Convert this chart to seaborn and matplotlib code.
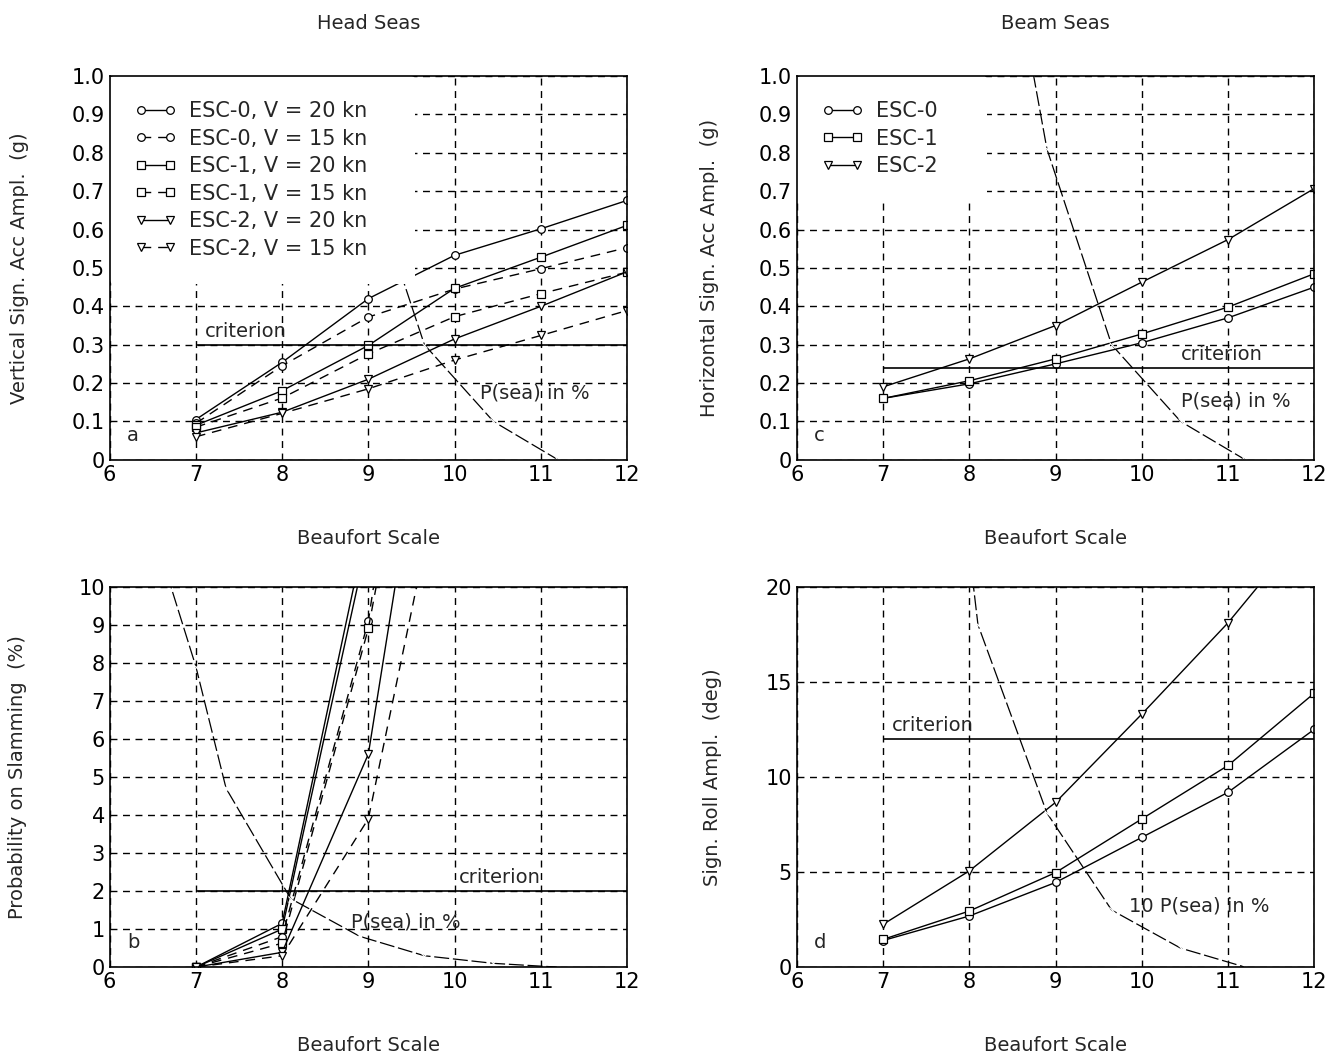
import matplotlib
matplotlib.use("Agg")
import matplotlib.pyplot as plt
import seaborn as sns

# Beaufort positions where each configuration was evaluated
beaufort = [7, 8, 9, 10, 11, 12]

# (a) Head seas, vertical significant acceleration amplitude (g)
vert_esc0_v20 = [0.105, 0.254, 0.420, 0.533, 0.602, 0.676]
vert_esc0_v15 = [0.095, 0.245, 0.372, 0.445, 0.498, 0.553]
vert_esc1_v20 = [0.090, 0.180, 0.298, 0.447, 0.528, 0.611]
vert_esc1_v15 = [0.085, 0.161, 0.276, 0.373, 0.433, 0.489]
vert_esc2_v20 = [0.070, 0.124, 0.210, 0.315, 0.400, 0.490]
vert_esc2_v15 = [0.060, 0.121, 0.185, 0.260, 0.324, 0.389]

# (b) Head seas, probability on slamming (%)
slam_esc0_v20 = [0.0, 1.15, 11.8, 26.0, 40.0, 52.0]
slam_esc0_v15 = [0.0, 0.80, 9.1, 24.0, 37.0, 48.0]
slam_esc1_v20 = [0.0, 1.00, 11.3, 25.0, 38.0, 50.0]
slam_esc1_v15 = [0.0, 0.63, 8.9, 21.0, 33.0, 44.0]
slam_esc2_v20 = [0.0, 0.39, 5.6, 19.8, 30.0, 40.0]
slam_esc2_v15 = [0.0, 0.30, 3.9, 14.8, 24.0, 33.0]

# (c) Beam seas, horizontal significant acceleration amplitude (g)
hor_esc0 = [0.160, 0.198, 0.250, 0.305, 0.370, 0.450]
hor_esc1 = [0.160, 0.206, 0.263, 0.328, 0.398, 0.485]
hor_esc2 = [0.190, 0.263, 0.350, 0.463, 0.574, 0.707]

# (d) Beam seas, significant roll amplitude (deg)
roll_esc0 = [1.40, 2.69, 4.45, 6.82, 9.19, 12.5]
roll_esc1 = [1.46, 2.95, 4.97, 7.79, 10.6, 14.4]
roll_esc2 = [2.25, 5.06, 8.66, 13.3, 18.1, 23.6]

# probability of the sea state (%) vs Beaufort
p_sea_bft = [6.6, 7.0, 7.35, 8.1, 8.9, 9.65, 10.45, 11.2]
p_sea_pct = [10.8, 7.9, 4.7, 1.8, 0.81, 0.30, 0.10, 0.0]

# criteria
crit_x = [7, 12]
crit_vert = 0.3
crit_slam = 2.0
crit_hor = 0.24
crit_roll = 12.0

head_labels = ["ESC-0, V = 20 kn", "ESC-0, V = 15 kn", "ESC-1, V = 20 kn",
               "ESC-1, V = 15 kn", "ESC-2, V = 20 kn", "ESC-2, V = 15 kn"]
beam_labels = ["ESC-0", "ESC-1", "ESC-2"]

sns.set_theme(style="white")
plt.rcParams["font.family"] = ["DejaVu Sans"]
plt.rcParams["axes.edgecolor"] = "black"
plt.rcParams["axes.linewidth"] = 1.2

DASH = (0, (7, 5))
GRID = (0, (5, 4))


def series(ax, y, marker, dashed=False, label=None):
    sns.lineplot(x=beaufort, y=y, ax=ax, color="black", linewidth=1.0,
                 marker=marker, markersize=5.5, markerfacecolor="white",
                 markeredgecolor="black", markeredgewidth=0.9,
                 linestyle=DASH if dashed else "-", label=label,
                 legend=False, estimator=None, sort=False)


def p_sea(ax, scale):
    sns.lineplot(x=p_sea_bft, y=[v * scale for v in p_sea_pct], ax=ax,
                 color="black", linewidth=0.9, marker="x", markersize=5,
                 linestyle=(0, (12, 3)), legend=False, estimator=None, sort=False)


def style_axes(ax, ylim, yticks, ylabel, tag, ylab_x):
    ax.set_xlim(6, 12)
    ax.set_ylim(*ylim)
    ax.set_xticks([6, 7, 8, 9, 10, 11, 12])
    ax.set_yticks(yticks)
    ax.grid(True, color="black", linestyle=GRID, linewidth=1.0)
    ax.set_axisbelow(True)
    ax.tick_params(direction="in", length=4, labelsize=15, colors="black")
    ax.set_xlabel("Beaufort Scale", fontsize=14)
    ax.set_ylabel(ylabel, fontsize=14)
    ax.xaxis.set_label_coords(0.5, -0.18)
    ax.yaxis.set_label_coords(ylab_x, 0.5)
    ax.text(6.2, ylim[0] + 0.05 * (ylim[1] - ylim[0]), tag, fontsize=14)
    for s in ax.spines.values():
        s.set_visible(True)
        s.set_color("black")


def legend_box(ax, bbox):
    leg = ax.legend(loc="upper left", bbox_to_anchor=bbox, mode="expand",
                    fontsize=15, numpoints=2, handlelength=2.0, handletextpad=0.6,
                    frameon=True, facecolor="white", edgecolor="none", framealpha=1,
                    borderpad=1.2, labelspacing=0.36, borderaxespad=0.0)
    # keep the white box over the curves but under the axes frame
    leg.set_zorder(2.2)


fig = plt.figure(figsize=(13.37, 10.57), dpi=100)
ax_a = fig.add_axes([0.082, 0.565, 0.387, 0.363])
ax_c = fig.add_axes([0.596, 0.565, 0.387, 0.363])
ax_b = fig.add_axes([0.082, 0.085, 0.387, 0.360])
ax_d = fig.add_axes([0.596, 0.085, 0.387, 0.360])

# (a) vertical acceleration, head seas
head_vert = [vert_esc0_v20, vert_esc0_v15, vert_esc1_v20,
             vert_esc1_v15, vert_esc2_v20, vert_esc2_v15]
head_marks = ["o", "o", "s", "s", "v", "v"]
for i, y in enumerate(head_vert):
    series(ax_a, y, head_marks[i], dashed=(i % 2 == 1), label=head_labels[i])
ax_a.hlines(crit_vert, crit_x[0], crit_x[1], color="black", linewidth=1.2)
p_sea(ax_a, 1.0)
style_axes(ax_a, (0, 1.0), [i / 10 for i in range(11)],
           "Vertical Sign. Acc Ampl.  (g)", "a", -0.155)
ax_a.set_yticklabels(["0"] + [f"{i / 10:.1f}" for i in range(1, 11)])
ax_a.text(7.1, 0.32, "criterion", fontsize=14)
ax_a.text(10.3, 0.16, "P(sea) in %", fontsize=14)
legend_box(ax_a, (0, 0.45, 0.59, 0.55))
ax_a.set_title("Head Seas", fontsize=14, pad=34)

# (b) slamming, head seas
head_slam = [slam_esc0_v20, slam_esc0_v15, slam_esc1_v20,
             slam_esc1_v15, slam_esc2_v20, slam_esc2_v15]
for i, y in enumerate(head_slam):
    series(ax_b, y, head_marks[i], dashed=(i % 2 == 1))
ax_b.hlines(crit_slam, crit_x[0], crit_x[1], color="black", linewidth=1.2)
p_sea(ax_b, 1.0)
style_axes(ax_b, (0, 10), list(range(11)),
           "Probability on Slamming  (%)", "b", -0.160)
ax_b.text(10.05, 2.2, "criterion", fontsize=14)
ax_b.text(8.8, 1.05, "P(sea) in %", fontsize=14)

# (c) horizontal acceleration, beam seas
beam_marks = ["o", "s", "v"]
for y, m, lab in zip([hor_esc0, hor_esc1, hor_esc2], beam_marks, beam_labels):
    series(ax_c, y, m, label=lab)
ax_c.hlines(crit_hor, crit_x[0], crit_x[1], color="black", linewidth=1.2)
p_sea(ax_c, 1.0)
style_axes(ax_c, (0, 1.0), [i / 10 for i in range(11)],
           "Horizontal Sign. Acc Ampl.  (g)", "c", -0.150)
ax_c.set_yticklabels(["0"] + [f"{i / 10:.1f}" for i in range(1, 11)])
ax_c.text(10.45, 0.26, "criterion", fontsize=14)
ax_c.text(10.45, 0.14, "P(sea) in %", fontsize=14)
legend_box(ax_c, (0, 0.67, 0.367, 0.33))
ax_c.set_title("Beam Seas", fontsize=14, pad=34)

# (d) roll, beam seas
for y, m in zip([roll_esc0, roll_esc1, roll_esc2], beam_marks):
    series(ax_d, y, m)
ax_d.hlines(crit_roll, crit_x[0], crit_x[1], color="black", linewidth=1.2)
p_sea(ax_d, 10.0)
style_axes(ax_d, (0, 20), [0, 5, 10, 15, 20],
           "Sign. Roll Ampl.  (deg)", "d", -0.145)
ax_d.text(7.1, 12.4, "criterion", fontsize=14)
ax_d.text(9.85, 2.9, "10 P(sea) in %", fontsize=14)

fig.savefig("out.png", dpi=100, facecolor="white")
